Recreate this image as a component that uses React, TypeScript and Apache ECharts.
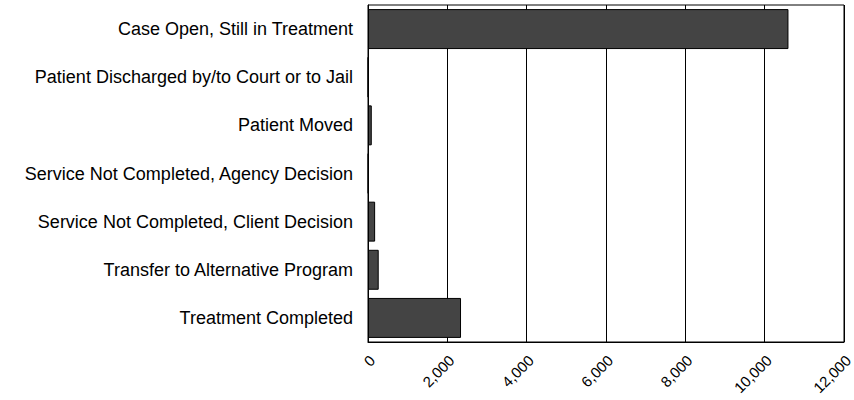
import React, { useEffect, useRef } from "react";
import * as echarts from "echarts";

const categories = [
  "Treatment Completed",
  "Transfer to Alternative Program",
  "Service Not Completed, Client Decision",
  "Service Not Completed, Agency Decision",
  "Patient Moved",
  "Patient Discharged by/to Court or to Jail",
  "Case Open, Still in Treatment",
];
const values = [2345, 270, 180, 8, 95, 5, 10600];
const axisMin = 0;
const axisMax = 12000;
const axisInterval = 2000;

const FONT = "'Liberation Sans', Arial, sans-serif";

export default function App() {
  const ref = useRef<HTMLDivElement>(null);
  useEffect(() => {
    if (!ref.current) return;
    const chart = echarts.init(ref.current, null, { renderer: "svg" });
    chart.setOption({
      animation: false,
      backgroundColor: "#ffffff",
      grid: {
        left: 368,
        right: 10,
        top: 5,
        bottom: 58,
        containLabel: false,
        outerBoundsMode: "none",
        show: true,
        borderColor: "#000000",
        borderWidth: 1,
        backgroundColor: "transparent",
      },
      xAxis: {
        type: "value",
        min: axisMin,
        max: axisMax,
        interval: axisInterval,
        axisLine: { show: true, lineStyle: { color: "#000", width: 1 } },
        axisTick: { show: false },
        splitLine: { show: true, lineStyle: { color: "#000", width: 1 } },
        axisLabel: {
          rotate: 45,
          margin: 20,
          color: "#000",
          fontSize: 15,
          fontFamily: FONT,
          padding: [0, -6, 0, 0],
          formatter: (v: number) => v.toLocaleString("en-US"),
        },
      },
      yAxis: {
        type: "category",
        data: categories,
        axisLine: { show: true, lineStyle: { color: "#000", width: 1 } },
        axisTick: { show: false },
        splitLine: { show: false },
        axisLabel: {
          margin: 15,
          color: "#000",
          fontSize: 18,
          fontFamily: FONT,
          interval: 0,
        },
      },
      series: [
        {
          type: "bar",
          data: values,
          barCategoryGap: "17%",
          itemStyle: { color: "#444444", borderColor: "#000000", borderWidth: 1 },
        },
      ],
    });
    return () => chart.dispose();
  }, []);
  return <div ref={ref} style={{ width: 854, height: 400, position: "absolute", left: 0, top: 0 }} />;
}
